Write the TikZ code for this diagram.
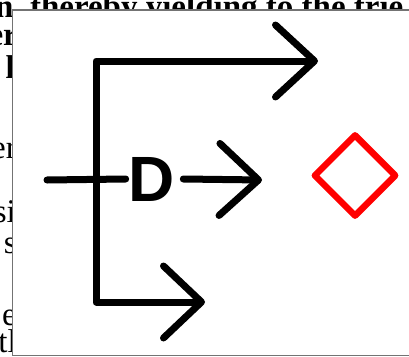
\documentclass[tikz,border=0pt]{standalone}
\usepackage{fontspec}
\setmainfont{Liberation Serif}
\newfontfamily\dfont{Liberation Sans}
\usetikzlibrary{arrows.meta,shapes.geometric}
\tikzset{
  wire/.style={line width=7pt, line cap=round, line join=round, black},
  barb/.style={-{Straight Barb[length=39pt,width=72pt,round]}},
  bgtext/.style={inner sep=0pt, font=\fontsize{33}{33}\selectfont, text=black},
  bgbold/.style={bgtext, font=\fontsize{33}{33}\selectfont\bfseries},
}
\begin{document}
\begin{tikzpicture}[x=1pt,y=-1pt]
\useasboundingbox (0,0) rectangle (409,356);
% page text behind the framed figure
\begin{scope}
\clip (0,0) rectangle (409,356);
\node[bgbold, anchor=base west] (l0) at (-5,17) {n, thereby yielding to the trie};
\node[bgbold, anchor=base east] (l1) at (18,45) {er};
\node[bgbold, anchor=base east] (l2) at (15,78) {l};
\node[bgtext, anchor=base east] (l3) at (17,158) {er};
\node[bgtext, anchor=base east] (l4) at (16,222) {si};
\node[bgtext, anchor=base east] (l5) at (17,253) {s};
\node[bgtext, anchor=base east] (l6) at (17,325) {e};
\node[bgtext, anchor=base east] (l7) at (17,352) {tl};
\end{scope}
% framed figure area
\path[fill=white, draw=black!55, line width=1.2pt] (12.6,10) rectangle (415,355.4);
% connectors
\coordinate (c1) at (96,61);
\coordinate (c2) at (96,302);
\coordinate (t1) at (318,61);
\coordinate (t3) at (205,302);
\coordinate (s) at (47,180);
\coordinate (t2) at (262,180);
\node[inner sep=0pt, font=\dfont\bfseries\fontsize{64}{64}\selectfont] (D) at (152,179) {D};
\draw[wire, {Straight Barb[length=39pt,width=72pt,round]}-{Straight Barb[length=38pt,width=72pt,round]}] (t1) -- (c1) -- (c2) -- (t3);
\draw[wire] (s) -- ([xshift=-3pt]D.west);
\draw[wire, barb] ([xshift=8pt]D.east) -- (t2);
\node[diamond, aspect=1, draw=red, line width=6.5pt, line join=round, inner sep=0pt, minimum width=83pt, minimum height=83pt] (dm) at (355,175.5) {};
\end{tikzpicture}
\end{document}
